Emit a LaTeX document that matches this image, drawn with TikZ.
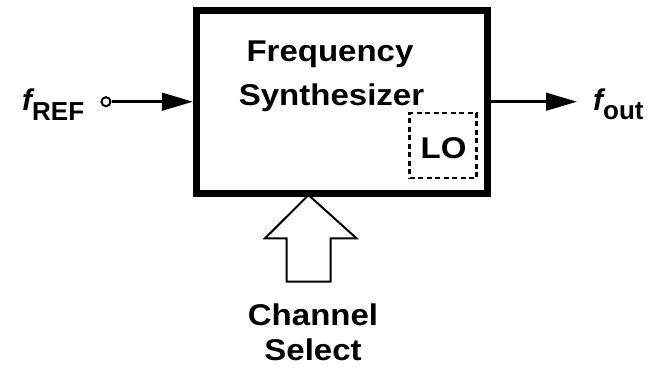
\documentclass[tikz,border=0pt]{standalone}
\usepackage{fontspec}
\setmainfont{Liberation Sans}
\usetikzlibrary{arrows.meta}
\newcommand{\wide}[1]{\scalebox{1.1}[1]{#1}}
\begin{document}
\begin{tikzpicture}[x=1pt,y=-1pt,
  lbl/.style={font=\fontsize{30}{30}\selectfont\bfseries, inner sep=0pt, align=center},
  sig/.style={line width=2.8pt, -{Triangle[length=31pt,width=17.5pt]}},
  ]
\useasboundingbox (0,0) rectangle (652,368);
\node[draw, line width=7pt, minimum width=290.7pt, minimum height=183pt, inner sep=0pt] (syn) at (341.8,102.3) {};
\node[lbl, anchor=base] (t1) at (330,61.7) {\wide{Frequency}};
\node[lbl, anchor=base] (t2) at (331.5,105) {\wide{Synthesizer}};
\node[draw, line width=2.8pt, dash pattern=on 5pt off 3.5pt, minimum width=67pt, minimum height=65pt, inner sep=0pt] (lo) at (443,145.5) {};
\node[lbl, anchor=base] (lotxt) at (443.5,158) {\wide{LO}};
\node[circle, draw, line width=2pt, minimum size=9pt, inner sep=0pt] (in) at (106,101.7) {};
\node[anchor=base west, inner sep=0pt] (fref) at (22,110) {\fontsize{30}{32}\selectfont\bfseries\itshape f\raisebox{-10pt}{\fontsize{26}{28}\selectfont\upshape REF}};
\coordinate (synin) at (syn.west |- in);
\draw[sig] (in.east) -- (synin);
\coordinate (synout) at (syn.east |- 0,101.7);
\coordinate (outend) at (577,101.7);
\draw[sig] (synout) -- (outend);
\node[anchor=base west, inner sep=0pt] (fout) at (593,110) {\fontsize{30}{32}\selectfont\bfseries\itshape f\raisebox{-9pt}{\fontsize{26}{28}\selectfont\upshape out}};
\draw[line width=2pt, line join=miter] (308.5,195) -- (356.5,238.3) -- (330.7,238.3) -- (330.7,281.7) -- (286.7,281.7) -- (286.7,238.3) -- (265,238.3) -- cycle;
\node[lbl, anchor=base] (ch1) at (313,325) {\wide{Channel}};
\node[lbl, anchor=base] (ch2) at (313,360.5) {\wide{Select}};
\end{tikzpicture}
\end{document}
